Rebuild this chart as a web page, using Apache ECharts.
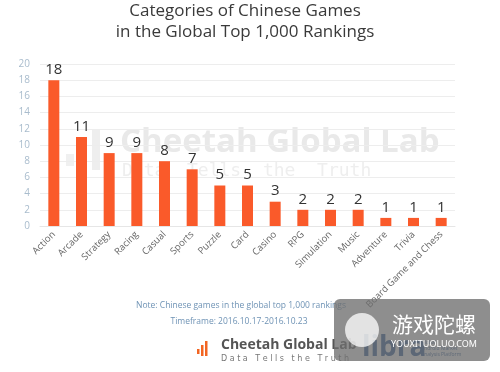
<!DOCTYPE html>
<html>
<head>
<meta charset="utf-8">
<script src="https://cdn.jsdelivr.net/npm/echarts@6/dist/echarts.min.js"></script>
<style>
html,body{margin:0;padding:0;background:#fff;}
#main{width:500px;height:372px;}
</style>
</head>
<body>
<div id="main"></div>
<script>
var categories = ['Action','Arcade','Strategy','Racing','Casual','Sports','Puzzle','Card','Casino','RPG','Simulation','Music','Adventure','Trivia','Board Game and Chess'];
var values = [18,11,9,9,8,7,5,5,3,2,2,2,1,1,1];
var titleLines = ['Categories of Chinese Games','in the Global Top 1,000 Rankings'];
var noteLines = ['Note: Chinese games in the global top 1,000 rankings','Timeframe: 2016.10.17-2016.10.23'];

var chart = echarts.init(document.getElementById('main'));
var font = '"Open Sans", "Noto Sans", sans-serif';
chart.setOption({
  backgroundColor: '#fff',
  animation: false,
  title: {
    text: titleLines.join('\n'),
    left: 240, top: -4, textAlign: 'center',
    textStyle: {fontFamily: font, fontSize: 17, fontWeight: 'normal', color: '#3a3a3a', lineHeight: 21}
  },
  grid: {left: 40, right: 45, top: 64, bottom: 146, containLabel: false},
  xAxis: {
    type: 'category', data: categories,
    axisLine: {show: true, lineStyle: {color: '#e6e6e6'}},
    axisTick: {show: false},
    axisLabel: {rotate: 45, interval: 0, fontSize: 9.5, color: '#666', fontFamily: font, margin: 7}
  },
  yAxis: {
    type: 'value', min: 0, max: 20, interval: 2,
    axisLine: {show: false}, axisTick: {show: false},
    axisLabel: {fontSize: 10, color: '#a9bccd', fontFamily: font, margin: 10},
    splitLine: {lineStyle: {color: '#ededed'}}
  },
  series: [{
    type: 'bar', data: values, barWidth: 11,
    itemStyle: {color: '#fa5a2a'},
    label: {show: true, position: 'top', fontSize: 15, color: '#333', fontFamily: font, distance: 3},
    z: 5
  }],
  graphic: [
    {type: 'rect', z: 0, shape: {x: 66, y: 154, width: 8, height: 12}, style: {fill: '#f0f0f0'}},
    {type: 'rect', z: 0, shape: {x: 79, y: 142, width: 8, height: 26}, style: {fill: '#efefef'}},
    {type: 'rect', z: 0, shape: {x: 92, y: 130, width: 8, height: 40}, style: {fill: '#eeeeee'}},
    {type: 'text', z: 0, x: 120, y: 126, style: {text: 'Cheetah Global Lab', font: 'bold 33px "Open Sans", sans-serif', fill: '#e9e9e9'}},
    {type: 'text', z: 0, x: 122, y: 162, style: {text: 'Data  Tells  the  Truth', font: '18px "DejaVu Sans Mono", monospace', fill: '#eeeeee'}},
    {type: 'text', z: 1, x: 241, y: 301, style: {text: noteLines[0], font: '8.5px "Open Sans", sans-serif', fill: '#6f93b5', align: 'center'}},
    {type: 'text', z: 1, x: 239, y: 317, style: {text: noteLines[1], font: '8.5px "Open Sans", sans-serif', fill: '#6f93b5', align: 'center'}},
    {type: 'rect', shape: {x: 197, y: 349, width: 2.5, height: 5}, style: {fill: '#f26522'}},
    {type: 'rect', shape: {x: 201, y: 345, width: 2.5, height: 11}, style: {fill: '#f26522'}},
    {type: 'rect', shape: {x: 205, y: 341, width: 2.5, height: 15}, style: {fill: '#f26522'}},
    {type: 'text', x: 221, y: 338, style: {text: 'Cheetah Global Lab', font: 'bold 14px "Open Sans", sans-serif', fill: '#555'}},
    {type: 'text', x: 221, y: 355, style: {text: 'D a t a   T e l l s   t h e   T r u t h', font: '8px "DejaVu Sans", sans-serif', fill: '#777'}},
    {type: 'text', x: 362, y: 334, style: {text: 'libra', font: 'bold 28px "Open Sans", sans-serif', fill: '#1d4f91'}},
    {type: 'text', x: 421, y: 340, style: {text: 'Global\nAndroid Market\nAnalysis Platform', font: '5px "Open Sans", sans-serif', fill: '#1d4f91', lineHeight: 6}},
    {type: 'rect', z: 100, shape: {x: 334, y: 299, width: 156, height: 62, r: 6}, style: {fill: 'rgba(110,110,110,0.78)'}},
    {type: 'circle', z: 101, shape: {cx: 362, cy: 330, r: 17}, style: {fill: 'rgba(255,255,255,0.75)'}},
    {type: 'text', z: 101, x: 392, y: 314, style: {text: '游戏陀螺', font: '21px "Noto Sans CJK SC", sans-serif', fill: '#fff'}},
    {type: 'text', z: 101, x: 391, y: 340, style: {text: 'YOUXITUOLUO.COM', font: '9px "Noto Sans", sans-serif', fill: '#fff'}}
  ]
});
</script>
</body>
</html>
